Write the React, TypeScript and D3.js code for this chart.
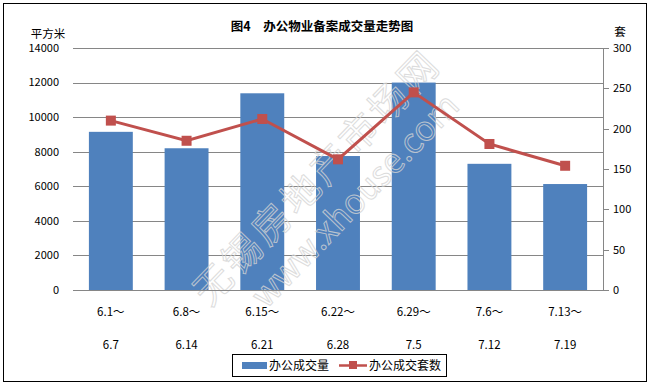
import React from 'react';
import * as d3 from 'd3';

const weeksTop = ['6.1～', '6.8～', '6.15～', '6.22～', '6.29～', '7.6～', '7.13～'];
const weeksBottom = ['6.7', '6.14', '6.21', '6.28', '7.5', '7.12', '7.19'];
const area = [9150, 8200, 11380, 7750, 12000, 7300, 6130];
const units = [210, 185, 212, 162, 245, 181, 154];
const leftTicks = [0, 2000, 4000, 6000, 8000, 10000, 12000, 14000];
const rightTicks = [0, 50, 100, 150, 200, 250, 300];

const W = 650;
const H = 385;
const margin = { top: 48, right: 47, bottom: 95, left: 73 };
const font = '"Noto Sans CJK SC", "DejaVu Sans", sans-serif';
const blue = '#4F81BD';
const red = '#C0504D';
const grid = '#868686';

export default function App() {
  const x = d3.scaleBand<number>()
    .domain(d3.range(area.length))
    .range([margin.left, W - margin.right])
    .paddingInner(0.42)
    .paddingOuter(0.21);
  const yL = d3.scaleLinear().domain([0, 14000]).range([H - margin.bottom, margin.top]);
  const yR = d3.scaleLinear().domain([0, 300]).range([H - margin.bottom, margin.top]);
  const cx = (i: number) => x(i)! + x.bandwidth() / 2;
  const line = d3.line<number>().x((_, i) => cx(i)).y(d => yR(d));
  const x0 = margin.left;
  const x1 = W - margin.right;

  return (
    <svg width={W} height={H} style={{ position: 'absolute', left: 0, top: 0 }} fontFamily={font}>
      <rect x={3.5} y={3.5} width={643} height={378} fill="#fff" stroke="#000" />

      <text x={322} y={31} textAnchor="middle" fontSize={12.5} fontWeight="bold">图4　办公物业备案成交量走势图</text>
      <text x={48} y={37.5} textAnchor="middle" fontSize={11.5}>平方米</text>
      <text x={620} y={36} textAnchor="middle" fontSize={11.5}>套</text>

      {leftTicks.map(t => (
        <g key={t}>
          <line x1={x0} x2={x1} y1={Math.round(yL(t)) + 0.5} y2={Math.round(yL(t)) + 0.5} stroke={grid} />
          <text x={59} y={yL(t)} dy="0.35em" textAnchor="end" fontSize={11}>{t}</text>
        </g>
      ))}

      {area.map((v, i) => (
        <rect key={i} x={x(i)} y={yL(v)} width={x.bandwidth()} height={yL(0) - yL(v)} fill={blue} />
      ))}

      <g transform="translate(335,195) rotate(-46)" fill="none" stroke="#d4d4d4" strokeWidth={1} opacity={0.8}>
        <text x={0} y={-12} textAnchor="middle" fontSize={38} fontFamily={font} letterSpacing={4}>无锡房地产市场网</text>
        <text x={10} y={30} textAnchor="middle" fontSize={34} fontFamily={font}>www.xhouse.com</text>
      </g>

      <line x1={x1 + 0.5} x2={x1 + 0.5} y1={margin.top} y2={yR(0)} stroke={grid} />
      {rightTicks.map(t => (
        <g key={t}>
          <line x1={x1} x2={x1 + 6} y1={Math.round(yR(t)) + 0.5} y2={Math.round(yR(t)) + 0.5} stroke={grid} />
          <text x={613} y={yR(t)} dy="0.35em" fontSize={11}>{t}</text>
        </g>
      ))}
      <line x1={x0} x2={x1} y1={Math.round(yL(0)) + 0.5} y2={Math.round(yL(0)) + 0.5} stroke={grid} />

      <path d={line(units)!} fill="none" stroke={red} strokeWidth={3} />
      {units.map((v, i) => (
        <rect key={i} x={cx(i) - 5} y={yR(v) - 5} width={10} height={10} fill={red} />
      ))}

      {weeksTop.map((s, i) => (
        <g key={i} fontSize={11.5} textAnchor="middle">
          <text x={cx(i)} y={316}>{s}</text>
          <text x={cx(i)} y={349}>{weeksBottom[i]}</text>
        </g>
      ))}

      <g>
        <rect x={232.5} y={354.5} width={214} height={22} fill="#fff" stroke="#000" />
        <rect x={242} y={362} width={25} height={7} fill={blue} />
        <text x={269} y={370} fontSize={12}>办公成交量</text>
        <line x1={339} x2={367} y1={365.5} y2={365.5} stroke={red} strokeWidth={2.5} />
        <rect x={349} y={361} width={8} height={8} fill={red} />
        <text x={369} y={370} fontSize={12}>办公成交套数</text>
      </g>
    </svg>
  );
}
